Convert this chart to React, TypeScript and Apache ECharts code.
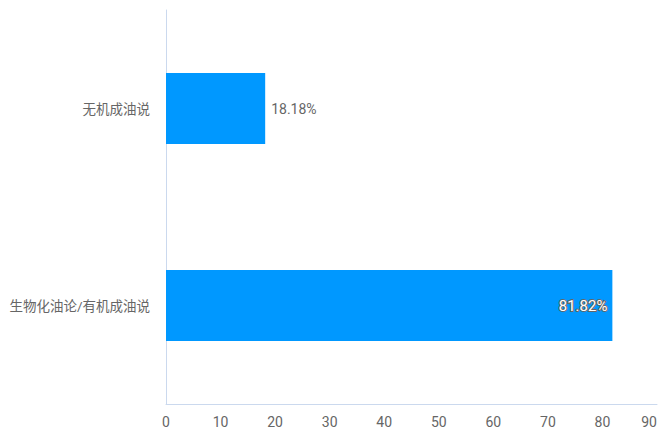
import React, { useEffect, useRef } from "react";
import * as echarts from "echarts";

const categories = ["生物化油论/有机成油说", "无机成油说"];
const values = [81.82, 18.18];
const xMin = 0;
const xMax = 90;
const xInterval = 10;

export default function App() {
  const ref = useRef<HTMLDivElement>(null);
  useEffect(() => {
    if (!ref.current) return;
    const chart = echarts.init(ref.current, undefined, { renderer: "svg" });
    const font = "Roboto, 'Noto Sans CJK SC', sans-serif";
    chart.setOption({
      animation: false,
      grid: { left: 166, right: 11, top: 10, bottom: 41, containLabel: false },
      xAxis: {
        type: "value",
        min: xMin,
        max: xMax,
        interval: xInterval,
        axisLine: { show: true, lineStyle: { color: "#cbd9ee", width: 1 } },
        axisTick: { show: false },
        splitLine: { show: false },
        axisLabel: { color: "#666", fontSize: 14, fontFamily: font, margin: 11, alignMaxLabel: "right" },
      },
      yAxis: {
        type: "category",
        data: categories,
        axisLine: { show: true, lineStyle: { color: "#cbd9ee", width: 1 } },
        axisTick: { show: false },
        axisLabel: { color: "#666", fontSize: 13.5, fontFamily: font, margin: 16 },
      },
      series: [
        {
          type: "bar",
          data: values.map((v, i) =>
            i === 0
              ? {
                  value: v,
                  label: {
                    position: "insideRight",
                    color: "#fff",
                    textBorderColor: "#666",
                    textBorderWidth: 2,
                    fontSize: 15,
                    distance: 5,
                  },
                }
              : { value: v }
          ),
          barWidth: 71,
          itemStyle: { color: "#0098ff" },
          label: {
            show: true,
            position: "right",
            distance: 6,
            color: "#666",
            fontSize: 14,
            fontFamily: font,
            formatter: (p: any) => p.value.toFixed(2) + "%",
          },
        },
      ],
    });
    return () => chart.dispose();
  }, []);
  return <div ref={ref} style={{ width: 668, height: 445, position: "absolute", left: 0, top: 0 }} />;
}
